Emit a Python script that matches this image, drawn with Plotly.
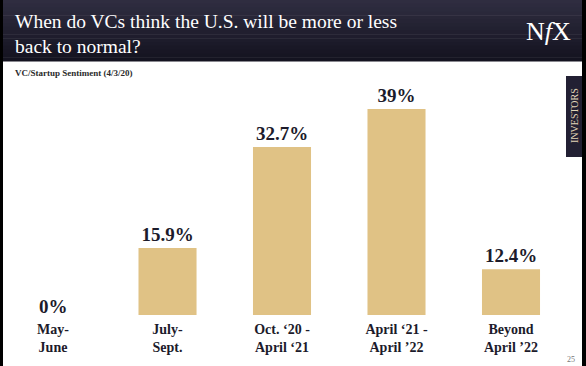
import plotly.graph_objects as go

# ---- data ----
categories = ["May-<br>June", "July-<br>Sept.", "Oct. \u201820 -<br>April \u201821",
              "April \u201821 -<br>April \u201922", "Beyond<br>April \u201922"]
values = [0, 15.9, 32.7, 39, 12.4]
value_labels = ["0%", "15.9%", "32.7%", "39%", "12.4%"]
title_text = "When do VCs think the U.S. will be more or less<br>back to normal?"
subtitle_text = "VC/Startup Sentiment (4/3/20)"

W, H = 586, 366
M_T, M_B = 80, 51
PLOT_H = H - M_T - M_B
SERIF = "Liberation Serif, DejaVu Serif, serif"
DARK = "#1c1b2b"
BAR = "#e0c285"


def px(x):
    return x / W


def py(y):
    return (H - M_B - y) / PLOT_H


x_idx = list(range(len(categories)))
y_min, y_max = 4.8, 43.8

fig = go.Figure()
fig.add_trace(go.Bar(
    x=x_idx, y=values,
    width=0.507,
    marker=dict(color=BAR, line=dict(width=0)),
    text=["<b>" + t + "</b>" if v > y_min else "" for t, v in zip(value_labels, values)],
    textposition="outside",
    textfont=dict(family=SERIF, size=19, color=DARK),
    cliponaxis=False,
    hoverinfo="skip",
))

shapes = []
# header gradient (stripes)
n = 16
hdr_h = 61
top_c = (0x2f, 0x2d, 0x40)
bot_c = (0x14, 0x13, 0x20)
for i in range(n):
    t = i / (n - 1)
    c = tuple(int(round(top_c[k] + (bot_c[k] - top_c[k]) * t)) for k in range(3))
    shapes.append(dict(type="rect", xref="paper", yref="paper",
                       x0=0, x1=1, y0=py((i + 1) * hdr_h / n + 0.5), y1=py(i * hdr_h / n),
                       fillcolor="rgb(%d,%d,%d)" % c, line=dict(width=0), layer="below"))
# side black strips
shapes.append(dict(type="rect", xref="paper", yref="paper", x0=0, x1=px(3), y0=py(H), y1=py(0),
                   fillcolor="#000000", line=dict(width=0)))
shapes.append(dict(type="rect", xref="paper", yref="paper", x0=px(582), x1=1, y0=py(H), y1=py(0),
                   fillcolor="#000000", line=dict(width=0)))
# INVESTORS tab
shapes.append(dict(type="rect", xref="paper", yref="paper", x0=px(566), x1=px(582),
                   y0=py(157), y1=py(76),
                   fillcolor="#222033", line=dict(width=0)))

annotations = [
    dict(text=title_text, xref="paper", yref="paper", x=px(13), y=py(9),
         xanchor="left", yanchor="top", align="left", showarrow=False,
         font=dict(family=SERIF, size=19.5, color="#ffffff")),
    dict(text="N<i>f</i>X", xref="paper", yref="paper", x=px(573), y=py(31),
         xanchor="right", yanchor="middle", showarrow=False,
         font=dict(family=SERIF, size=26, color="#ffffff")),
    dict(text="<b>" + subtitle_text + "</b>", xref="paper", yref="paper", x=px(13), y=py(66),
         xanchor="left", yanchor="top", showarrow=False,
         font=dict(family=SERIF, size=9, color="#2a2a2a")),
    dict(text="INVESTORS", xref="paper", yref="paper", x=px(574), y=py(116),
         xanchor="center", yanchor="middle", showarrow=False, textangle=-90,
         font=dict(family=SERIF, size=10, color="#e3d6b8")),
    dict(text="25", xref="paper", yref="paper", x=px(577), y=py(359),
         xanchor="right", yanchor="middle", showarrow=False,
         font=dict(family=SERIF, size=8, color="#777777")),
]
# labels for values below the visible axis start
for i, (v, t) in enumerate(zip(values, value_labels)):
    if v <= y_min:
        annotations.append(dict(text="<b>" + t + "</b>", x=i, y=y_min, xref="x", yref="y",
                                xanchor="center", yanchor="bottom", yshift=-4,
                                showarrow=False,
                                font=dict(family=SERIF, size=19, color=DARK)))

fig.update_layout(
    width=W, height=H,
    margin=dict(l=0, r=0, t=M_T, b=M_B, pad=0),
    paper_bgcolor="#ffffff", plot_bgcolor="rgba(0,0,0,0)",
    showlegend=False,
    shapes=shapes,
    annotations=annotations,
    xaxis=dict(range=[-0.463, 4.655], tickmode="array", tickvals=x_idx,
               ticktext=["<b>" + c + "</b>" for c in categories],
               tickfont=dict(family=SERIF, size=14, color=DARK),
               showgrid=False, zeroline=False, showline=False, ticks="", ticklen=0,
               ticklabelstandoff=4, automargin=False),
    yaxis=dict(range=[y_min, y_max], visible=False, showgrid=False, zeroline=False),
)

fig.write_html("out.html", config={"displayModeBar": False},
               post_script="document.body.style.margin='0';document.body.style.overflow='hidden';")
